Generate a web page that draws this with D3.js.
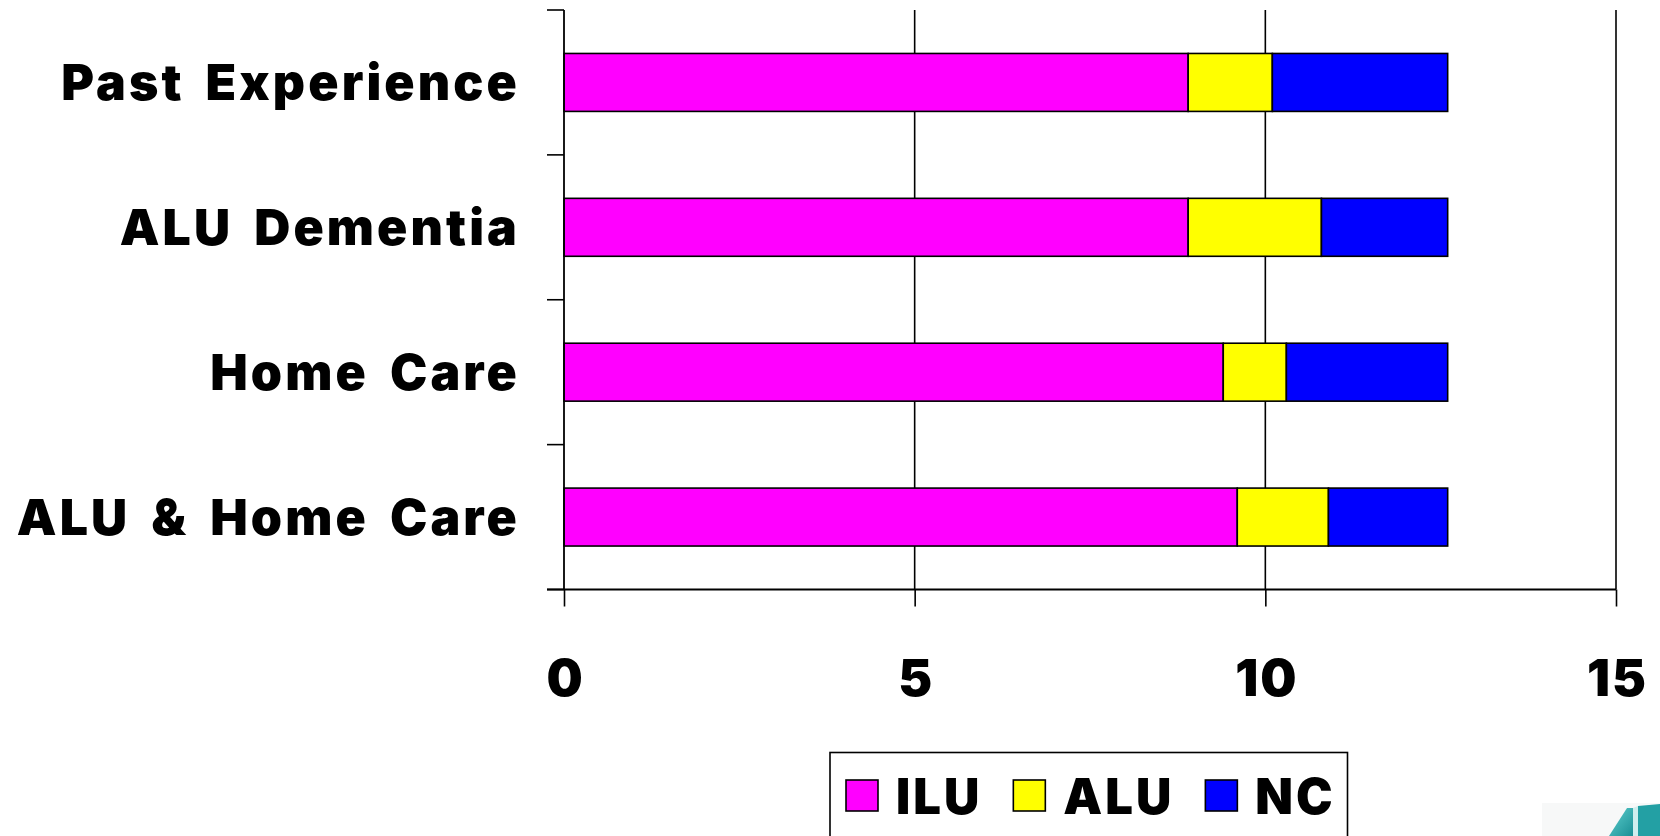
<!DOCTYPE html>
<html>
<head>
<meta charset="utf-8">
<script src="https://cdn.jsdelivr.net/npm/d3@7/dist/d3.min.js"></script>
<style>
  html, body { margin: 0; padding: 0; background: #ffffff; }
  svg { display: block; }
  .heavy { font-family: "Arial Black", "Inter", "Roboto", sans-serif; font-weight: 900; fill: #000; }
</style>
</head>
<body>
<svg id="chart" width="1660" height="836"></svg>
<script>
// Preferred location by respondent group (stacked counts)
const categories = ["Past Experience", "ALU Dementia", "Home Care", "ALU & Home Care"];
const seriesNames = ["ILU", "ALU", "NC"];
const iluValues = [8.9, 8.9, 9.4, 9.6];
const aluValues = [1.2, 1.9, 0.9, 1.3];
const ncValues  = [2.5, 1.8, 2.3, 1.7];
const xTickValues = [0, 5, 10, 15];
const seriesColors = ["#FF00FF", "#FFFF00", "#0000FF"];

const svg = d3.select("#chart");

const plot = { left: 564, right: 1616, top: 10, bottom: 589.5 };

const x = d3.scaleLinear().domain([0, 15]).range([plot.left, plot.right]);
const y = d3.scaleBand()
  .domain(categories)
  .range([plot.top, plot.bottom])
  .paddingInner(0.6)
  .paddingOuter(0.3);

const rows = categories.map((c, i) => ({
  category: c, ILU: iluValues[i], ALU: aluValues[i], NC: ncValues[i]
}));
const stacked = d3.stack().keys(seriesNames)(rows);
const color = d3.scaleOrdinal().domain(seriesNames).range(seriesColors);

// vertical gridlines at the x ticks
svg.append("g")
  .selectAll("line")
  .data(xTickValues.filter(v => v > 0))
  .join("line")
  .attr("x1", d => x(d)).attr("x2", d => x(d))
  .attr("y1", plot.top).attr("y2", plot.bottom)
  .attr("stroke", "#000").attr("stroke-width", 1.6);

// stacked bars
svg.append("g")
  .selectAll("g")
  .data(stacked)
  .join("g")
  .attr("fill", d => color(d.key))
  .selectAll("rect")
  .data(d => d)
  .join("rect")
  .attr("x", d => x(d[0]))
  .attr("width", d => x(d[1]) - x(d[0]))
  .attr("y", d => y(d.data.category))
  .attr("height", y.bandwidth())
  .attr("stroke", "#000")
  .attr("stroke-width", 1.6);

// category axis: line plus ticks on the band boundaries
const step = y.step();
const boundaries = d3.range(categories.length + 1).map(i => plot.top + i * step);
svg.append("line")
  .attr("x1", plot.left).attr("x2", plot.left)
  .attr("y1", plot.top).attr("y2", plot.bottom)
  .attr("stroke", "#000").attr("stroke-width", 1.8);
svg.append("g")
  .selectAll("line")
  .data(boundaries)
  .join("line")
  .attr("x1", plot.left - 17).attr("x2", plot.left)
  .attr("y1", d => d).attr("y2", d => d)
  .attr("stroke", "#000").attr("stroke-width", 1.6);

svg.append("g")
  .selectAll("text")
  .data(categories)
  .join("text")
  .attr("class", "heavy")
  .attr("x", 520)
  .attr("y", d => y(d) + y.bandwidth() / 2 + 18)
  .attr("text-anchor", "end")
  .attr("font-size", 50)
  .attr("letter-spacing", 3.1)
  .attr("word-spacing", 8)
  .text(d => d);

// value axis along the bottom
const xAxis = d3.axisBottom(x)
  .tickValues(xTickValues)
  .tickSize(17)
  .tickPadding(0)
  .tickFormat(d3.format("d"));
const gx = svg.append("g")
  .attr("transform", `translate(0,${plot.bottom})`)
  .call(xAxis);
gx.select(".domain").remove();
gx.selectAll(".tick line").attr("stroke", "#000").attr("stroke-width", 1.6);
gx.selectAll(".tick text")
  .attr("class", "heavy")
  .attr("font-size", 51)
  .attr("y", 0)
  .attr("dy", 0)
  .attr("transform", "translate(1,106)")
  .attr("letter-spacing", 2);
svg.append("line")
  .attr("x1", plot.left - 17).attr("x2", plot.right)
  .attr("y1", plot.bottom).attr("y2", plot.bottom)
  .attr("stroke", "#000").attr("stroke-width", 1.8);

// legend
const legend = svg.append("g");
legend.append("rect")
  .attr("x", 830).attr("y", 752.5)
  .attr("width", 517.5).attr("height", 120)
  .attr("fill", "#fff").attr("stroke", "#000").attr("stroke-width", 1.6);
let lx = 846;
seriesNames.forEach((name, i) => {
  legend.append("rect")
    .attr("x", lx).attr("y", 780)
    .attr("width", 32).attr("height", 31)
    .attr("fill", seriesColors[i])
    .attr("stroke", "#000").attr("stroke-width", 1.6);
  const t = legend.append("text")
    .attr("class", "heavy")
    .attr("x", lx + 50).attr("y", 814)
    .attr("font-size", 49)
    .attr("letter-spacing", 3)
    .text(name);
  lx += 50 + t.node().getComputedTextLength() + 31;
});

// corner emblem
const emblem = svg.append("g");
const defs = svg.append("defs");
const grad = defs.append("linearGradient").attr("id", "teal").attr("x1", 0).attr("x2", 1).attr("y1", 0).attr("y2", 1);
grad.append("stop").attr("offset", 0).attr("stop-color", "#5fd0cf");
grad.append("stop").attr("offset", 1).attr("stop-color", "#1a8f95");
emblem.append("rect").attr("x", 1542).attr("y", 803).attr("width", 118).attr("height", 33).attr("fill", "#f7f8f8");
emblem.append("path").attr("d", "M1609,836 L1627,808 L1633,808 L1633,836 Z").attr("fill", "url(#teal)");
emblem.append("path").attr("d", "M1633,808 L1638,806 L1638,836 L1633,836 Z").attr("fill", "#cfeeee");
emblem.append("path").attr("d", "M1638,806 L1660,804 L1660,836 L1638,836 Z").attr("fill", "#23a0a4");
</script>
</body>
</html>
